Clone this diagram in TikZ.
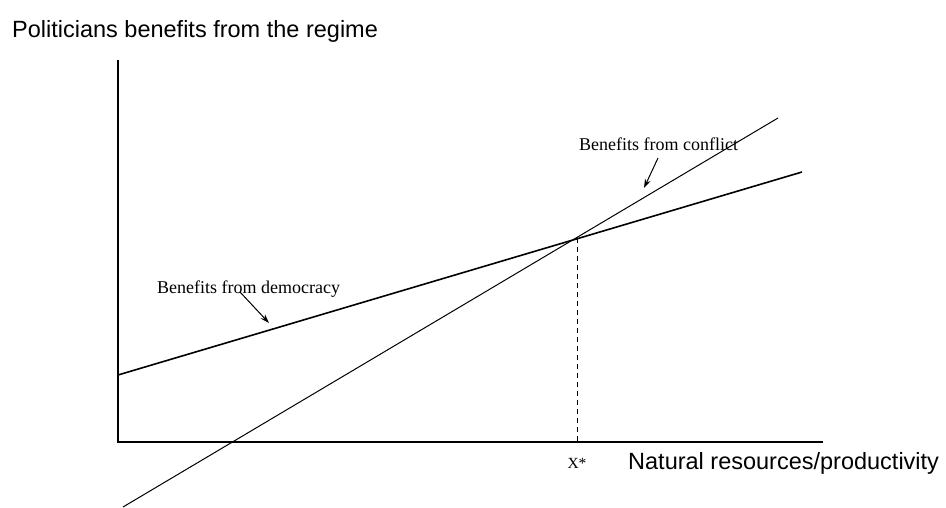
\documentclass[tikz,border=0pt]{standalone}
\usepackage{fontspec}
\setmainfont{Liberation Serif}
\setsansfont{Liberation Sans}
\usetikzlibrary{arrows.meta}
\begin{document}
\begin{tikzpicture}[x=1pt,y=-1pt,
  axis/.style={line width=2pt},
  curve/.style={line width=1.6pt},
  thin curve/.style={line width=1pt},
  pointer/.style={line width=1pt,-{Stealth[length=9pt,width=6pt]}},
  lab/.style={inner sep=0pt,font=\fontsize{18}{20}\selectfont},
  axlab/.style={inner sep=0pt,font=\sffamily\fontsize{23.5}{26}\selectfont}]
\useasboundingbox (0,0) rectangle (946,507);
% axes
\coordinate (O) at (118,442);
\coordinate (Ytop) at (118,60);
\coordinate (Xend) at (823,442);
\draw[axis] (Ytop) -- (O) -- (Xend);
% lines
\coordinate (D0) at (118,375);
\coordinate (D1) at (802,172);
\coordinate (C0) at (123,507);
\coordinate (C1) at (778,118);
\coordinate (I) at (577,238);
\coordinate (Ibase) at (577,442);
\draw[curve] (D0) -- (D1);
\draw[thin curve] (C0) -- (C1);
\draw[dashed,line width=0.8pt,dash pattern=on 5pt off 4pt] (I) -- (Ibase);
% labels
\node[axlab,anchor=base west] (ylab) at (12,37) {Politicians benefits from the regime};
\node[axlab,anchor=base west] (xlab) at (628,469) {Natural resources/productivity};
\node[inner sep=0pt,font=\fontsize{15.5}{18}\selectfont,anchor=base] (xstar) at (577,468) {X*};
\node[lab,anchor=base west] (conf) at (579,150) {Benefits from conflict};
\node[lab,anchor=base west] (dem) at (157,293) {Benefits from democracy};
\coordinate (ca) at (658,158);
\coordinate (cb) at (644,188);
\coordinate (da) at (240,292);
\coordinate (db) at (269,323);
\draw[pointer] (ca) -- (cb);
\draw[pointer] (da) -- (db);
\end{tikzpicture}
\end{document}
